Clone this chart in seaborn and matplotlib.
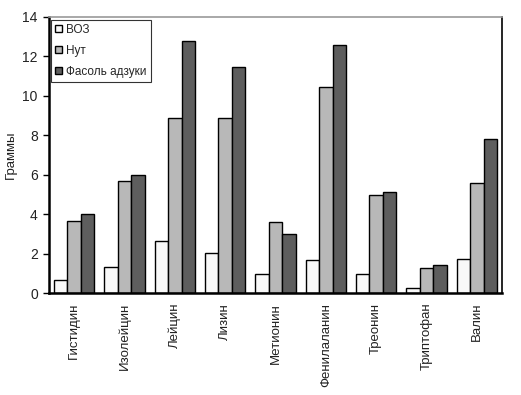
import matplotlib
matplotlib.use("Agg")
import matplotlib.pyplot as plt
import seaborn as sns
import pandas as pd
import numpy as np

#categories and series
acids = ["Гистидин", "Изолейцин", "Лейцин", "Лизин", "Метионин",
         "Фенилаланин", "Треонин", "Триптофан", "Валин"]
who = [0.66, 1.34, 2.62, 2.03, 0.98, 1.68, 0.98, 0.24, 1.74]
chickpea = [3.64, 5.7, 8.9, 8.9, 3.6, 10.44, 4.96, 1.25, 5.57]
adzuki = [4.0, 6.0, 12.76, 11.46, 2.98, 12.57, 5.13, 1.44, 7.8]
series_names = ["ВОЗ", "Нут", "Фасоль адзуки"]
y_ticks = [0, 2, 4, 6, 8, 10, 12, 14]

sns.set_style("white")
plt.rcParams['font.family'] = ['Liberation Sans Narrow', 'Liberation Sans', 'DejaVu Sans']

df = pd.DataFrame({
    "acid": acids * 3,
    "value": who + chickpea + adzuki,
    "series": [series_names[0]] * 9 + [series_names[1]] * 9 + [series_names[2]] * 9,
})

fig = plt.figure(figsize=(5.21, 3.95), dpi=100)
ax = fig.add_axes([0.094, 0.258, 0.8695, 0.699])

palette = ["#f8f8f8", "#b8b8b8", "#5e5e5e"]
sns.barplot(data=df, x="acid", y="value", hue="series", palette=palette,
            width=0.8, gap=0, edgecolor="black", linewidth=1.0, ax=ax)

ax.set_ylim(0, 14)
ax.set_xlim(-0.5, 8.5)
ax.set_yticks(y_ticks)
ax.set_yticklabels([str(t) for t in y_ticks], fontsize=10, color="#222222")
ax.set_xticks(range(len(acids)))
ax.set_xticklabels(acids, rotation=90, fontsize=9.5, color="#222222")
ax.set_xticks(np.arange(-0.5, 9, 1), minor=True)
ax.tick_params(axis="x", which="major", length=0, pad=7)
ax.tick_params(axis="x", which="minor", length=4, color="#999999", width=0.8)
ax.tick_params(axis="y", which="major", left=True, length=4, width=1, color="black", pad=4)
ax.set_xlabel("")
ax.set_ylabel("Граммы", fontsize=9.5, labelpad=4, color="#222222")

for side in ["left", "bottom"]:
    ax.spines[side].set_linewidth(1.8)
    ax.spines[side].set_color("black")
ax.spines["right"].set_linewidth(1.2)
ax.spines["right"].set_color("black")
ax.spines["top"].set_linewidth(1.2)
ax.spines["top"].set_color("#999999")

leg = ax.legend(loc="upper left", bbox_to_anchor=(0.005, 0.99), fontsize=8.5,
                frameon=True, fancybox=False, edgecolor="black",
                handlelength=0.6, handleheight=0.6, handletextpad=0.3,
                borderpad=0.35, labelspacing=0.75, borderaxespad=0)
leg.get_frame().set_linewidth(0.8)

fig.savefig("out.png", dpi=100)
